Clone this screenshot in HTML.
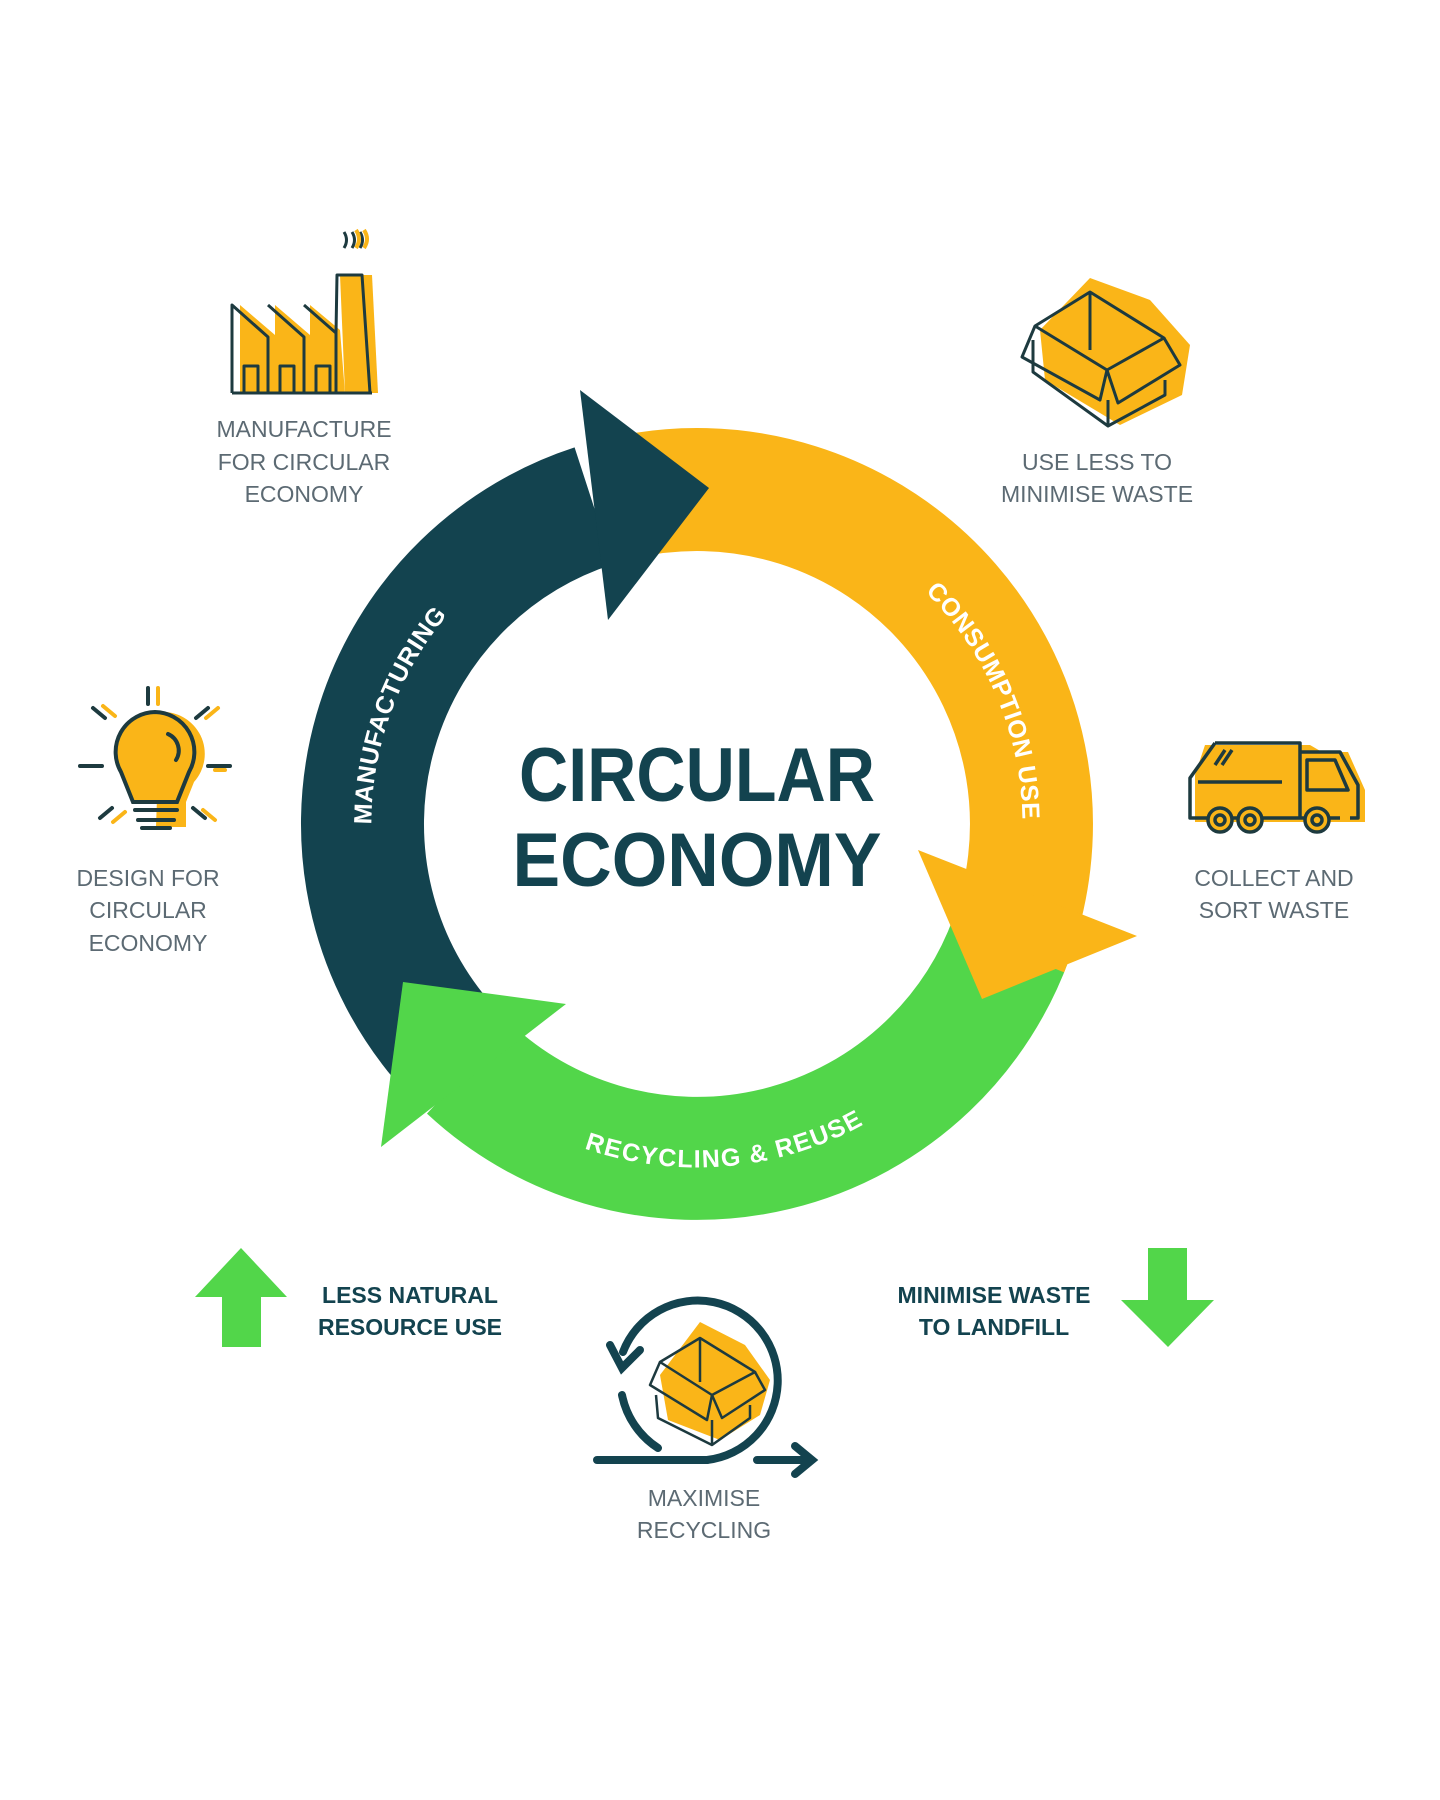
<!DOCTYPE html>
<html><head><meta charset="utf-8"><style>
html,body{margin:0;padding:0;background:#fff;}
svg{display:block}
.lab{font-family:"Liberation Sans",sans-serif;font-size:23px;fill:#5c6a73;text-anchor:middle;}
.bold{font-family:"Liberation Sans",sans-serif;font-size:23px;font-weight:bold;fill:#13434f;text-anchor:middle;}
.arc{font-family:"Liberation Sans",sans-serif;font-size:25px;font-weight:bold;fill:#fff;letter-spacing:1px;}
</style></head><body>
<svg width="1440" height="1800" viewBox="0 0 1440 1800" xmlns="http://www.w3.org/2000/svg">
<defs>
<path id="pm" d="M 407.3 991.3 A 334.5 334.5 0 0 1 582.6 509.6"/>
<path id="pc" d="M 811.4 509.7 A 334.5 334.5 0 0 1 1007.1 949.3"/>
<path id="pr" d="M 482 1080.2 A 334.5 334.5 0 0 0 953.2 1039"/>
</defs>
<path d="M 1011.3 938.4 A 334.5 334.5 0 0 1 468.9 1068.6" fill="none" stroke="#52d64a" stroke-width="123"/>
<path d="M 616.1 499.4 A 334.5 334.5 0 0 1 1007.1 949.3" fill="none" stroke="#fab518" stroke-width="123"/>
<path d="M 440.8 1039.1 A 334.5 334.5 0 0 1 593.6 505.9" fill="none" stroke="#13434f" stroke-width="123"/>
<polygon points="918,850 1137,936 982,999" fill="#fab518"/>
<polygon points="403,982 566,1004 381,1147" fill="#52d64a"/>
<polygon points="580,390 709,488 608,620" fill="#13434f"/>
<text class="arc" dy="9"><textPath href="#pm" startOffset="50%" text-anchor="middle">MANUFACTURING</textPath></text>
<text class="arc" dy="9"><textPath href="#pc" startOffset="51%" text-anchor="middle">CONSUMPTION USE</textPath></text>
<text class="arc" dy="9"><textPath href="#pr" startOffset="50%" text-anchor="middle">RECYCLING &amp; REUSE</textPath></text>
<text x="697" y="801" font-family="Liberation Sans,sans-serif" font-weight="bold" font-size="76" fill="#13434f" text-anchor="middle" textLength="356" lengthAdjust="spacingAndGlyphs">CIRCULAR</text>
<text x="697" y="886" font-family="Liberation Sans,sans-serif" font-weight="bold" font-size="76" fill="#13434f" text-anchor="middle" textLength="369" lengthAdjust="spacingAndGlyphs">ECONOMY</text>
<text class="lab" x="304" y="437">MANUFACTURE</text>
<text class="lab" x="304" y="470">FOR CIRCULAR</text>
<text class="lab" x="304" y="502">ECONOMY</text>
<text class="lab" x="1097" y="470">USE LESS TO</text>
<text class="lab" x="1097" y="502">MINIMISE WASTE</text>
<text class="lab" x="148" y="886">DESIGN FOR</text>
<text class="lab" x="148" y="918">CIRCULAR</text>
<text class="lab" x="148" y="951">ECONOMY</text>
<text class="lab" x="1274" y="886">COLLECT AND</text>
<text class="lab" x="1274" y="918">SORT WASTE</text>
<text class="lab" x="704" y="1506">MAXIMISE</text>
<text class="lab" x="704" y="1538">RECYCLING</text>
<text class="bold" x="410" y="1303">LESS NATURAL</text>
<text class="bold" x="410" y="1335">RESOURCE USE</text>
<text class="bold" x="994" y="1303">MINIMISE WASTE</text>
<text class="bold" x="994" y="1335">TO LANDFILL</text>
<polygon points="195,1297 241,1248 287,1297 261,1297 261,1347 222,1347 222,1297" fill="#52d64a"/>
<polygon points="1148,1248 1187,1248 1187,1300 1214,1300 1168,1347 1121,1300 1148,1300" fill="#52d64a"/>
<g stroke="#1d3a3f" stroke-width="3" fill="none" stroke-linejoin="round">
<path d="M240,305 L275,335 L275,393 L240,393 Z M275,305 L310,335 L310,393 L275,393 Z M310,305 L340,330 L345,393 L310,393 Z" fill="#fab518" stroke="none"/>
<path d="M340,275 L372,275 L378,393 L345,393 Z" fill="#fab518" stroke="none"/>
<path d="M232,393 L372,393 M232,393 L232,305 L268,337 L268,393 M268,305 L304,337 L304,393 M304,305 L336,333 L336,393 M336,333 L337,275 L362,275 L370,393"/>
<path d="M244,393 V366 H258 V393 M280,393 V366 H294 V393 M316,393 V366 H330 V393"/>
<path d="M344,232 q5,8 0,16 M352,232 q5,8 0,16 M360,232 q5,8 0,16"/>
</g>
<path d="M356,230 q6,9 0,18 M364,230 q6,9 0,18" stroke="#fab518" stroke-width="4" fill="none"/>
<g>
<polygon points="1090,278 1150,300 1190,345 1182,395 1120,425 1045,380 1040,330" fill="#fab518"/>
<g stroke="#1d3a3f" stroke-width="3" fill="none" stroke-linejoin="round">
<path d="M1090,292 L1164,338 L1107,370 L1035,326 Z M1090,292 L1090,350"/>
<path d="M1035,326 L1022,357 L1100,400 L1107,370 L1118,403 L1180,365 L1164,338"/>
<path d="M1033,340 L1033,372 L1108,426 L1108,400 M1165,380 L1165,395 L1108,426"/>
</g></g>
<g>
<path d="M160,712 a42,42 0 0 1 34,70 l-8,20 v25 h-30 z" fill="#fab518"/>
<path d="M155,712 a40,40 0 0 0 -34,60 l12,30 h44 l12,-30 a40,40 0 0 0 -34,-60 z" fill="#fab518"/>
<g stroke="#1d3a3f" stroke-width="4" fill="none" stroke-linecap="round">
<path d="M155,712 a40,40 0 0 0 -34,60 l12,30 h44 l12,-30 a40,40 0 0 0 -34,-60 z"/>
<path d="M135,810 h42 M138,820 h36 M142,828 h28"/>
<path d="M168,734 a18,18 0 0 1 8,26"/>
<path d="M148,688 v16 M93,708 l12,10 M208,708 l-12,10 M80,766 h22 M208,766 h22 M100,818 l12,-10 M205,818 l-12,-10"/>
</g>
<g stroke="#fab518" stroke-width="4" stroke-linecap="round">
<path d="M158,688 v16 M103,706 l12,10 M218,708 l-12,10 M215,770 h10 M113,822 l12,-10 M215,820 l-12,-10"/></g>
</g>
<g>
<path d="M1205,745 H1310 L1322,752 H1348 L1365,790 V822 H1195 V775 Z" fill="#fab518"/>
<g stroke="#1d3a3f" stroke-width="3.5" fill="none" stroke-linejoin="round">
<path d="M1215,743 H1300 V818 M1215,743 L1190,778 V818 H1340"/>
<path d="M1300,752 H1340 L1358,785 V818 H1350 M1307,760 H1335 L1348,790 H1307 Z"/>
<path d="M1198,782 H1282 M1215,765 L1225,750 M1222,765 L1232,750"/>
<circle cx="1220" cy="820" r="12" fill="#fab518"/><circle cx="1220" cy="820" r="5"/>
<circle cx="1250" cy="820" r="12" fill="#fab518"/><circle cx="1250" cy="820" r="5"/>
<circle cx="1317" cy="820" r="12" fill="#fab518"/><circle cx="1317" cy="820" r="5"/>
</g></g>
<g>
<polygon points="700,1322 745,1345 770,1380 760,1415 720,1440 668,1420 660,1375" fill="#fab518"/>
<g stroke="#1d3a3f" stroke-width="2.5" fill="none" stroke-linejoin="round">
<path d="M700,1338 L755,1372 L712,1395 L660,1362 Z M700,1338 L700,1382"/>
<path d="M660,1362 L650,1385 L707,1420 L712,1395 L722,1418 L765,1390 L755,1372"/>
<path d="M656,1395 L658,1418 L712,1445 L712,1420 M750,1405 L750,1418 L712,1445"/>
</g>
<g stroke="#13434f" stroke-width="8" fill="none" stroke-linecap="round">
<path d="M707,1460 A80,80 0 1 0 623,1352"/>
<path d="M622,1395 A82,82 0 0 0 658,1448"/>
<path d="M597,1460 H707"/>
<path d="M757,1460 H810 M795,1446 L812,1460 L795,1474"/>
<path d="M610,1345 L622,1368 L640,1350"/>
</g></g>
</svg>
</body></html>
